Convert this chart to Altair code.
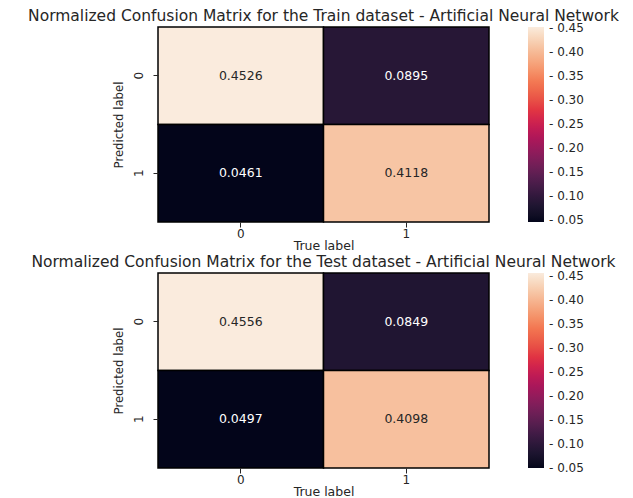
import altair as alt
import pandas as pd

true_labels = ["0", "1"]
pred_labels = ["0", "1"]
# rows: predicted label, columns: true label
train_values = [[0.4526, 0.0895], [0.0461, 0.4118]]
test_values = [[0.4556, 0.0849], [0.0497, 0.4098]]
colorbar_ticks = [0.05, 0.10, 0.15, 0.20, 0.25, 0.30, 0.35, 0.40, 0.45]
titles = [
    "Normalized Confusion Matrix for the Train dataset - Artificial Neural Network",
    "Normalized Confusion Matrix for the Test dataset - Artificial Neural Network",
]
rocket = ["#03051a", "#35193e", "#701f57", "#ad1759", "#e13342", "#f37651", "#f6b48f", "#faebdd"]

FONT = "DejaVu Sans"
W, H = 331, 195


def make(values, title):
    rows = []
    for i, p in enumerate(pred_labels):
        for j, t in enumerate(true_labels):
            rows.append({"pred": p, "true": t, "value": values[i][j]})
    df = pd.DataFrame(rows)
    flat = [v for r in values for v in r]
    vmin, vmax = min(flat), max(flat)
    n = len(rocket)
    domain = [vmin + (vmax - vmin) * k / (n - 1) for k in range(n)]
    mid = round((vmin + vmax) / 2, 4)

    x = alt.X("true:N", sort=true_labels, title="True label",
              scale=alt.Scale(paddingInner=0, paddingOuter=0),
              axis=alt.Axis(labelAngle=0, labelPadding=1, titlePadding=0))
    y = alt.Y("pred:N", sort=pred_labels, title="Predicted label",
              scale=alt.Scale(paddingInner=0, paddingOuter=0),
              axis=alt.Axis(labelAngle=-90, labelPadding=8, titlePadding=7,
                            titleFont="DejaVu Sans Condensed, Liberation Sans Narrow, DejaVu Sans",
                            titleFontSize=13))

    base = alt.Chart(df).properties(
        width=W, height=H,
        title=alt.TitleParams(title, fontSize=15.5, font=FONT, fontWeight="normal",
                              color="#262626", offset=2),
    )
    rect = base.mark_rect(stroke="black", strokeWidth=1.5).encode(
        x=x, y=y,
        color=alt.Color(
            "value:Q",
            scale=alt.Scale(domain=domain, range=rocket),
            legend=alt.Legend(
                title=None, gradientLength=H, gradientThickness=16,
                values=colorbar_ticks, labelExpr="'- ' + format(datum.value, '.2f')",
                labelFont=FONT, labelFontSize=12, labelColor="#262626",
                offset=39, padding=0, labelOffset=5, gradientStrokeWidth=0,
            ),
        ),
    )
    text = base.mark_text(fontSize=12.5, font=FONT).encode(
        x=x, y=y,
        text=alt.Text("value:Q", format=".4f"),
        color=alt.condition(f"datum['value'] > {mid}",
                            alt.value("#262626"), alt.value("#ffffff")),
    )
    return alt.layer(rect, text)


chart = alt.vconcat(make(train_values, titles[0]), make(test_values, titles[1]), spacing=2).resolve_scale(
    color="independent"
).resolve_legend(color="independent").configure_view(stroke=None).configure_axis(
    domain=False, grid=False, tickSize=5, tickColor="#262626", labelColor="#262626",
    titleColor="#262626", labelFont=FONT, titleFont=FONT, labelFontSize=12,
    titleFontSize=12.5, titleFontWeight="normal",
).properties(padding={"left": 20, "top": 0, "right": 0, "bottom": 0}, background="white")

chart.save("out.html", embed_options={"renderer": "svg", "actions": False})
